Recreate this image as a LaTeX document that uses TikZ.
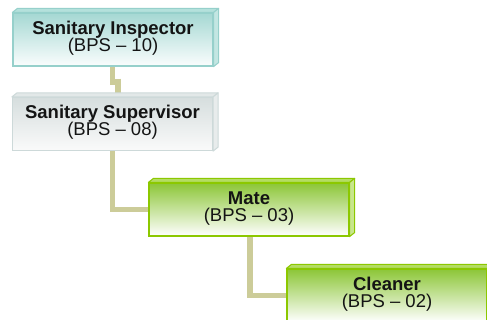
\documentclass[tikz,border=0pt]{standalone}
\usepackage{fontspec}
\setmainfont{Liberation Sans}
\usetikzlibrary{backgrounds}
\definecolor{tealB}{RGB}{150,208,203}
\definecolor{tealT}{RGB}{165,216,211}
\definecolor{tealTop}{RGB}{180,225,220}
\definecolor{tealSide}{RGB}{195,230,226}
\definecolor{tealW}{RGB}{250,253,253}
\definecolor{grayB}{RGB}{205,217,217}
\definecolor{grayT}{RGB}{214,222,222}
\definecolor{grayTop}{RGB}{226,232,232}
\definecolor{graySide}{RGB}{232,236,236}
\definecolor{grayW}{RGB}{250,250,250}
\definecolor{greenB}{RGB}{140,200,0}
\definecolor{greenT}{RGB}{140,198,55}
\definecolor{greenTop}{RGB}{180,220,100}
\definecolor{greenSide}{RGB}{200,230,140}
\definecolor{greenW}{RGB}{255,255,255}
\definecolor{connC}{RGB}{204,204,153}
\newcommand\boxtextfont{\fontsize{18.5}{17}\selectfont\lineskiplimit=-10pt\relax}
\newcommand\facesof[4]{%
  \filldraw[fill=#2,draw=#4,line width=1pt,line join=round]
    (#1.north west) -- ++(5,-4) -- ([shift={(5,-4)}]#1.north east) -- (#1.north east) -- cycle;
  \filldraw[fill=#3,draw=#4,line width=1pt,line join=round]
    (#1.north east) -- ++(5,-4) -- ([shift={(5,-4)}]#1.south east) -- (#1.south east) -- cycle;}
\begin{document}
\begin{tikzpicture}[x=1pt,y=-1pt,
  box/.style={minimum width=200pt,minimum height=53pt,inner sep=0pt,align=center,
    line width=1.2pt,font=\boxtextfont,text=black!92,text depth=6.5pt},
  tealbox/.style={box,draw=tealB,top color=tealT,bottom color=tealW},
  graybox/.style={box,draw=grayB,top color=grayT,bottom color=grayW},
  greenbox/.style={box,draw=greenB,top color=greenT,bottom color=greenW},
  conn/.style={draw=connC,line width=5.5pt,line join=miter}]
\useasboundingbox (0,0) rectangle (487,320);
\clip (0,0) rectangle (487,320);
\node[tealbox]  (b1) at (113,39.5)  {\textbf{Sanitary Inspector}\\(BPS – 10)};
\node[graybox]  (b2) at (112.5,124) {\textbf{Sanitary Supervisor}\\(BPS – 08)};
\node[greenbox] (b3) at (249,209.5) {\textbf{Mate}\\(BPS – 03)};
\node[greenbox] (b4) at (387,295.5) {\textbf{Cleaner}\\(BPS – 02)};
\facesof{b1}{tealTop}{tealSide}{tealB}
\facesof{b2}{grayTop}{graySide}{grayB}
\facesof{b3}{greenTop}{greenSide}{greenB}
\facesof{b4}{greenTop}{greenSide}{greenB}
\begin{pgfonlayer}{background}
  \fill[white] (0,0) rectangle (487,320);
  \draw[conn] ([xshift=-0.5pt]b1.south) -- ++(0,18) ++(5.5,-6) -- ([xshift=5.5pt]b2.north);
  \draw[conn] (b2.south) |- (b3.west);
  \draw[conn] ([xshift=1pt]b3.south) |- (b4.west);
\end{pgfonlayer}
\end{tikzpicture}
\end{document}
